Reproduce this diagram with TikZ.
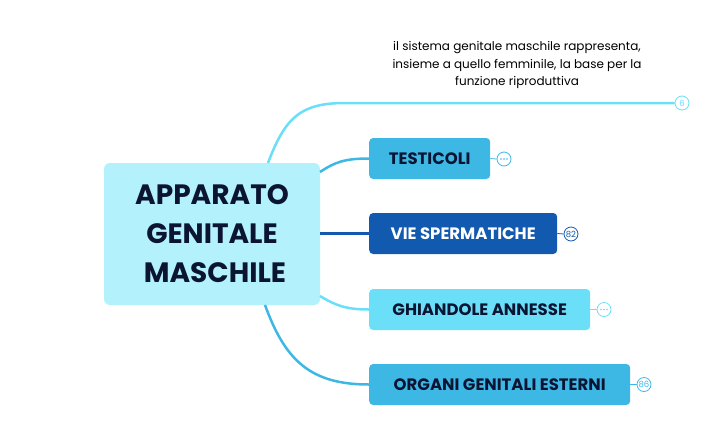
\documentclass[tikz,border=0pt]{standalone}
\usepackage{fontspec}
\setmainfont{Poppins}
\definecolor{central}{HTML}{B3F1FC}
\definecolor{midblue}{HTML}{3DB8E5}
\definecolor{darkblue}{HTML}{1259B0}
\definecolor{lightblue}{HTML}{6BDFF8}
\definecolor{navy}{HTML}{0B1533}
\begin{document}
\begin{tikzpicture}[x=1pt,y=-1pt,
  topic/.style={rounded corners=4pt, inner sep=0pt, minimum height=41pt, anchor=west, font=\bfseries\fontsize{16.5}{19}\selectfont, text=navy},
  endc/.style={circle, draw, fill=white, line width=0.8pt, minimum size=14pt, inner sep=0pt, font=\fontsize{8.5}{9}\selectfont},
  conn/.style={line width=2.5pt}]
\useasboundingbox (0,0) rectangle (707,437);
\node[rounded corners=6pt, fill=central, minimum width=216pt, minimum height=142pt, inner sep=0pt, align=center, font=\bfseries\fontsize{28}{39}\selectfont, text=navy] (c) at (212,234) {APPARATO\\GENITALE \\ \ MASCHILE};
% top branch
\node[endc, draw=lightblue, text=lightblue] (e0) at (682,103) {6};
\coordinate (s0) at (268,163);
\draw[conn, lightblue] (s0) .. controls (285,118) and (300,103) .. (345,103) -- (e0.west);
\node[align=center, font=\fontsize{12}{17.5}\selectfont, text=black] (t0) at (517,65) {il sistema genitale maschile rappresenta,\\insieme a quello femminile, la base per la\\funzione riproduttiva};
% testicoli
\node[topic, fill=midblue, minimum width=121pt] (b1) at (369,158.5) {TESTICOLI};
\node[endc, draw=midblue] (e1) at (504,159) {};
\foreach \d in {-3,0,3} \fill[midblue] ([xshift=\d pt]e1.center) circle (0.8pt);
\draw[conn, midblue] (320,172) .. controls (335,162) and (345,158.5) .. (b1.west);
\draw[line width=0.8pt, midblue] (b1.east) -- (e1.west);
% vie spermatiche
\node[topic, fill=darkblue, text=white, minimum width=188pt] (b2) at (369,233.5) {VIE SPERMATICHE};
\node[endc, draw=darkblue, text=darkblue] (e2) at (571,234) {82};
\draw[conn, darkblue] (320,233.5) -- (b2.west);
\draw[line width=0.8pt, darkblue] (b2.east) -- (e2.west);
% ghiandole
\node[topic, fill=lightblue, minimum width=221pt] (b3) at (369,309.5) {GHIANDOLE ANNESSE};
\node[endc, draw=lightblue] (e3) at (604,309.5) {};
\foreach \d in {-3,0,3} \fill[lightblue] ([xshift=\d pt]e3.center) circle (0.8pt);
\draw[conn, lightblue] (320,296) .. controls (335,305) and (345,309.5) .. (b3.west);
\draw[line width=0.8pt, lightblue] (b3.east) -- (e3.west);
% organi
\node[topic, fill=midblue, minimum width=261pt] (b4) at (369,384.5) {ORGANI GENITALI ESTERNI};
\node[endc, draw=midblue, text=midblue] (e4) at (644,384.5) {86};
\coordinate (s4) at (265,305);
\draw[conn, midblue] (s4) .. controls (285,360) and (310,384.5) .. (b4.west);
\draw[line width=0.8pt, midblue] (b4.east) -- (e4.west);
\end{tikzpicture}
\end{document}
